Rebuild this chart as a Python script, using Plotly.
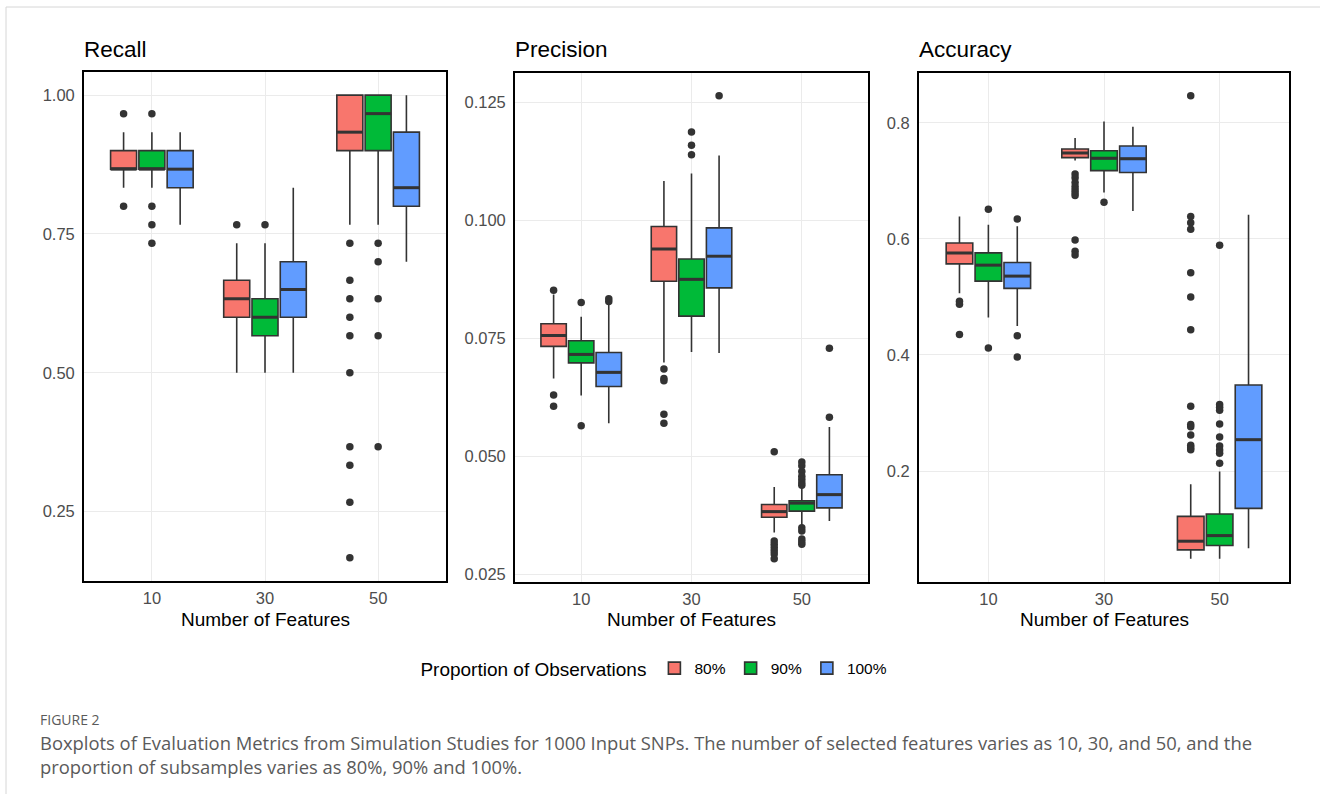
import plotly.graph_objects as go

# ---------------- data ----------------
categories = ["10", "30", "50"]
groups = ["80%", "90%", "100%"]
colors = ["#F8766D", "#00BA38", "#619CFF"]
metrics = ["Recall", "Precision", "Accuracy"]

# Recall
recall_lower = [[0.8333, 0.5000, 0.7667], [0.8333, 0.5000, 0.7667], [0.7667, 0.5000, 0.7000]]
recall_q1 = [[0.8667, 0.6000, 0.9000], [0.8667, 0.5667, 0.9000], [0.8333, 0.6000, 0.8000]]
recall_med = [[0.8667, 0.6333, 0.9333], [0.8667, 0.6000, 0.9667], [0.8667, 0.6500, 0.8333]]
recall_q3 = [[0.9000, 0.6667, 1.0000], [0.9000, 0.6333, 1.0000], [0.9000, 0.7000, 0.9333]]
recall_upper = [[0.9333, 0.7333, 1.0000], [0.9333, 0.7333, 1.0000], [0.9333, 0.8333, 1.0000]]
recall_out = [
    [[0.9667, 0.8000], [0.7667], [0.7333, 0.6667, 0.6333, 0.6000, 0.5667, 0.5000, 0.3667, 0.3333, 0.2667, 0.1667]],
    [[0.9667, 0.8000, 0.7667, 0.7333], [0.7667], [0.7333, 0.7000, 0.6333, 0.5667, 0.3667]],
    [[], [], []],
]

# Precision
prec_lower = [[0.0665, 0.0699, 0.0339], [0.0629, 0.0721, 0.0354], [0.0570, 0.0719, 0.0363]]
prec_q1 = [[0.0733, 0.0871, 0.0371], [0.0698, 0.0797, 0.0384], [0.0648, 0.0857, 0.0391]]
prec_med = [[0.0756, 0.0939, 0.0383], [0.0716, 0.0875, 0.0401], [0.0678, 0.0924, 0.0419]]
prec_q3 = [[0.0781, 0.0987, 0.0398], [0.0745, 0.0918, 0.0406], [0.0720, 0.0984, 0.0461]]
prec_upper = [[0.0843, 0.1083, 0.0435], [0.0796, 0.1099, 0.0434], [0.0821, 0.1137, 0.0562]]
prec_out = [
    [[0.0852, 0.0630, 0.0606], [0.0685, 0.0665, 0.0660, 0.0589, 0.0570],
     [0.0510, 0.0321, 0.0314, 0.0307, 0.0300, 0.0293, 0.0283]],
    [[0.0826, 0.0565], [0.1187, 0.1159, 0.1139],
     [0.0488, 0.0480, 0.0468, 0.0458, 0.0451, 0.0444, 0.0439, 0.0349, 0.0342, 0.0325, 0.0319, 0.0314]],
    [[0.0834, 0.0828], [0.1264], [0.0729, 0.0583]],
]

# Accuracy
acc_lower = [[0.5062, 0.7350, 0.0488], [0.4644, 0.6800, 0.0488], [0.4501, 0.6479, 0.0672]]
acc_q1 = [[0.5570, 0.7400, 0.0643], [0.5273, 0.7177, 0.0717], [0.5147, 0.7143, 0.1358]]
acc_med = [[0.5759, 0.7480, 0.0792], [0.5548, 0.7388, 0.0888], [0.5359, 0.7383, 0.2541]]
acc_q3 = [[0.5930, 0.7549, 0.1220], [0.5759, 0.7520, 0.1260], [0.5594, 0.7600, 0.3484]]
acc_upper = [[0.6388, 0.7737, 0.1775], [0.6245, 0.8023, 0.1992], [0.6216, 0.7931, 0.6417]]
acc_out = [
    [[0.4925, 0.4873, 0.4352],
     [0.7120, 0.7052, 0.6971, 0.6902, 0.6846, 0.6794, 0.6748, 0.5981, 0.5788, 0.5724],
     [0.8468, 0.6388, 0.6280, 0.6165, 0.5416, 0.4999, 0.4433, 0.3118, 0.2804, 0.2764, 0.2620,
      0.2443, 0.2404, 0.2369]],
    [[0.6513, 0.4119], [0.6633],
     [0.5890, 0.3147, 0.3100, 0.3049, 0.2809, 0.2586, 0.2432, 0.2363, 0.2306, 0.2135]],
    [[0.6342, 0.4330, 0.3964], [], []],
]

recall_ticks = [0.25, 0.50, 0.75, 1.00]
prec_ticks = [0.025, 0.050, 0.075, 0.100, 0.125]
acc_ticks = [0.2, 0.4, 0.6, 0.8]

caption_label = "FIGURE 2"
caption_line1 = ("Boxplots of Evaluation Metrics from Simulation Studies for 1000 Input SNPs. "
                 "The number of selected features varies as 10, 30, and 50, and the")
caption_line2 = "proportion of subsamples varies as 80%, 90% and 100%."

# ---------------- figure ----------------
W, H = 1320, 794
panels = [
    dict(stats=(recall_lower, recall_q1, recall_med, recall_q3, recall_upper), out=recall_out,
         ticks=recall_ticks, fmt=".2f", px=(84, 446), py=(72, 581)),
    dict(stats=(prec_lower, prec_q1, prec_med, prec_q3, prec_upper), out=prec_out,
         ticks=prec_ticks, fmt=".3f", px=(515, 868), py=(72.5, 582)),
    dict(stats=(acc_lower, acc_q1, acc_med, acc_q3, acc_upper), out=acc_out,
         ticks=acc_ticks, fmt=".1f", px=(919, 1289), py=(72.5, 582)),
]

offsets = [-0.25, 0.0, 0.25]
box_w = 0.23
FONT = "Liberation Sans, Arial, sans-serif"
fig = go.Figure()

for p_i, p in enumerate(panels):
    ax = "" if p_i == 0 else str(p_i + 1)
    xref, yref = "x" + ax, "y" + ax
    lower, q1, med, q3, upper = p["stats"]
    allvals = []
    for g in range(3):
        allvals += lower[g] + upper[g]
        for o in p["out"][g]:
            allvals += o
        xs = [c + offsets[g] for c in range(len(categories))]
        fig.add_trace(go.Box(
            x=xs, q1=q1[g], median=med[g], q3=q3[g], lowerfence=lower[g], upperfence=upper[g],
            width=box_w, whiskerwidth=0, fillcolor=colors[g],
            line=dict(color="#333333", width=1.6), boxpoints=False,
            name=groups[g], legendgroup=groups[g], showlegend=(p_i == 0),
            xaxis=xref, yaxis=yref, hoverinfo="skip",
        ))
        # thicker median line
        mx, my = [], []
        for c in range(len(categories)):
            mx += [xs[c] - box_w / 2, xs[c] + box_w / 2, None]
            my += [med[g][c], med[g][c], None]
        fig.add_trace(go.Scatter(x=mx, y=my, mode="lines", line=dict(color="#333333", width=3),
                                 showlegend=False, xaxis=xref, yaxis=yref, hoverinfo="skip"))
        ox, oy = [], []
        for c in range(len(categories)):
            for v in p["out"][g][c]:
                ox.append(xs[c])
                oy.append(v)
        fig.add_trace(go.Scatter(x=ox, y=oy, mode="markers",
                                 marker=dict(color="#333333", size=7.5),
                                 showlegend=False, xaxis=xref, yaxis=yref, hoverinfo="skip"))
    lo, hi = min(allvals), max(allvals)
    pad = (hi - lo) * 0.05
    xd = [p["px"][0] / W, p["px"][1] / W]
    yd = [1 - p["py"][1] / H, 1 - p["py"][0] / H]
    common = dict(showline=True, mirror=True, linecolor="black", linewidth=1.8,
                  showgrid=True, gridcolor="#EBEBEB", gridwidth=1, zeroline=False,
                  ticks="", tickfont=dict(family=FONT, size=16.5, color="#4D4D4D"))
    fig.layout["xaxis" + ax] = dict(domain=xd, range=[-0.6, 2.6], tickmode="array",
                                    tickvals=list(range(len(categories))), ticktext=categories,
                                    anchor=yref, ticklabelstandoff=1, **common)
    fig.layout["yaxis" + ax] = dict(domain=yd, range=[lo - pad, hi + pad], tickmode="array",
                                    tickvals=p["ticks"], tickformat=p["fmt"], anchor=xref,
                                    ticklabelstandoff=4, **common)
    fig.add_annotation(text=metrics[p_i], xref="paper", yref="paper", x=xd[0] - 2 / W, y=1 - 50 / H,
                       xanchor="left", yanchor="middle", showarrow=False,
                       font=dict(family=FONT, size=22.5, color="black"))
    fig.add_annotation(text="Number of Features", xref="paper", yref="paper",
                       x=(xd[0] + xd[1]) / 2, y=1 - 619 / H, xanchor="center", yanchor="middle",
                       showarrow=False, font=dict(family=FONT, size=19, color="black"))

CAP_FONT = "Open Sans, Lato, sans-serif"
fig.add_annotation(text=caption_label, xref="paper", yref="paper", x=38 / W, y=1 - 719 / H,
                   xanchor="left", yanchor="middle", showarrow=False,
                   font=dict(family=CAP_FONT, size=14, color="#5a5a5a"))
fig.add_annotation(text=caption_line1 + "<br>" + caption_line2, xref="paper", yref="paper",
                   x=38 / W, y=1 - 754 / H, xanchor="left", yanchor="middle", align="left",
                   showarrow=False, font=dict(family=CAP_FONT, size=18.4, color="#5a5a5a"))

# page card border
fig.add_shape(type="line", xref="paper", yref="paper", x0=6 / W, x1=1, y0=1 - 7 / H, y1=1 - 7 / H,
              line=dict(color="#D6D6D6", width=1))
fig.add_shape(type="line", xref="paper", yref="paper", x0=6 / W, x1=6 / W, y0=0, y1=1 - 7 / H,
              line=dict(color="#D6D6D6", width=1))

fig.update_layout(
    width=W, height=H, autosize=False,
    margin=dict(l=0, r=0, t=0, b=0),
    paper_bgcolor="white", plot_bgcolor="white",
    boxmode="overlay",
    legend=dict(orientation="h", x=0.4965, xanchor="center", y=1 - 669 / H, yanchor="middle",
                title=dict(text="Proportion of Observations", side="left",
                           font=dict(family=FONT, size=19, color="black")),
                font=dict(family=FONT, size=15.5, color="black"), itemwidth=30),
    font=dict(family=FONT),
)

fig.write_html("out.html", config={"displayModeBar": False},
               post_script="document.body.style.margin='0';document.body.style.padding='0';")
